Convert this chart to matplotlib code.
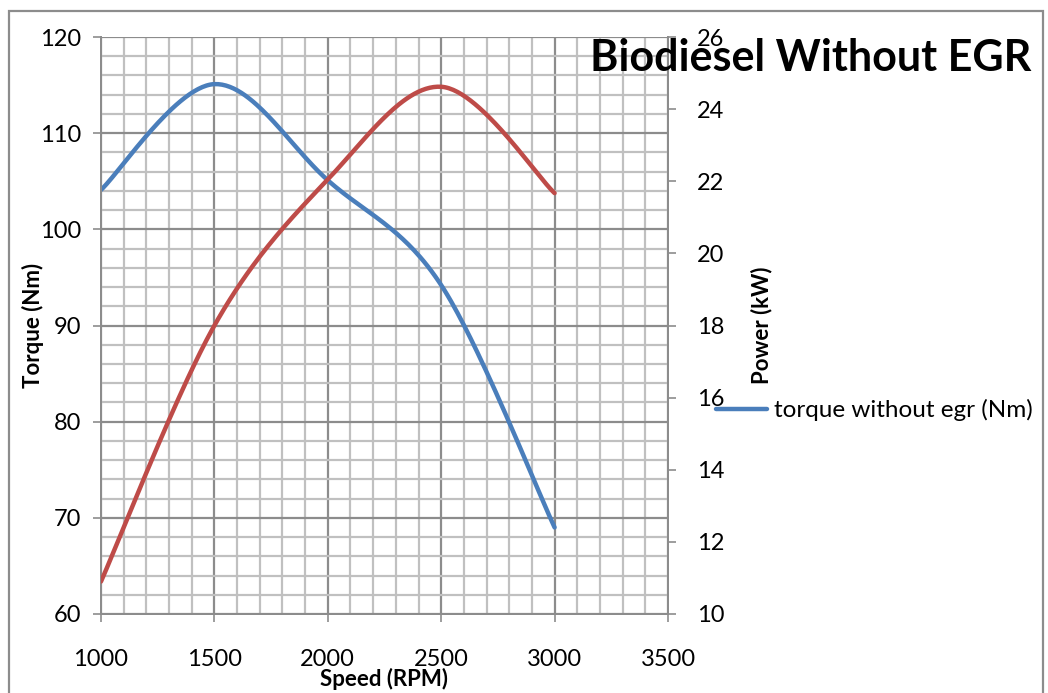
import numpy as np
import matplotlib
matplotlib.use("Agg")
import matplotlib.pyplot as plt
from matplotlib.patches import Rectangle

plt.rcParams['font.family'] = ['Lato', 'DejaVu Sans']

speed = [1000, 1500, 2000, 2500, 3000]
torque = [104.1, 115.1, 105.1, 94.2, 69.0]
power = [10.9, 18.0, 22.05, 24.62, 21.67]


def smooth(x, y, n=60):
    # catmull-rom style smoothing, like excel's smoothed line
    x = np.asarray(x, float)
    y = np.asarray(y, float)
    px = np.concatenate([[x[0]], x, [x[-1]]])
    py = np.concatenate([[y[0]], y, [y[-1]]])
    xs, ys = [], []
    for i in range(1, len(px) - 2):
        t = np.linspace(0, 1, n)
        for arr, out in ((px, xs), (py, ys)):
            p0, p1, p2, p3 = arr[i - 1], arr[i], arr[i + 1], arr[i + 2]
            m1 = (p2 - p0) / 2
            m2 = (p3 - p1) / 2
            h00 = 2 * t**3 - 3 * t**2 + 1
            h10 = t**3 - 2 * t**2 + t
            h01 = -2 * t**3 + 3 * t**2
            h11 = t**3 - t**2
            out.extend(h00 * p1 + h10 * m1 + h01 * p2 + h11 * m2)
    return np.array(xs), np.array(ys)


fig = plt.figure(figsize=(10.48, 6.93), dpi=100)
ax = fig.add_axes([101 / 1048, 1 - 614 / 693, (668 - 101) / 1048, (614 - 37) / 693])
ax2 = ax.twinx()

sx, st = smooth(speed, torque)
ax.plot(sx, st, color='#4a7ebb', lw=3.2, solid_capstyle='round',
        label='torque without egr (Nm)', zorder=3)
sx2, sp = smooth(speed, power)
ax2.plot(sx2, sp, color='#be4b48', lw=3.2, solid_capstyle='round', zorder=3)

ax.set_xlim(1000, 3500)
ax.set_ylim(60, 120)
ax2.set_ylim(10, 26)
ax.set_xticks(np.arange(1000, 3501, 500))
ax.set_xticks(np.arange(1000, 3501, 100), minor=True)
ax.set_yticks(np.arange(60, 121, 10))
ax.set_yticks(np.arange(60, 121, 2), minor=True)
ax2.set_yticks(np.arange(10, 27, 2))

ax.grid(which='minor', color='#c0c0c0', lw=1.6)
ax.grid(which='major', color='#8c8c8c', lw=1.6)
ax.set_axisbelow(True)

for a in (ax, ax2):
    for s in a.spines.values():
        s.set_color('#8c8c8c')
        s.set_linewidth(1.4)
ax.spines['top'].set_visible(False)
ax2.spines['top'].set_visible(False)

ax.tick_params(which='major', direction='out', length=6, width=1.2, color='#8c8c8c',
               labelsize=17)
ax.tick_params(axis='y', pad=8)
ax.tick_params(which='minor', length=0)
ax.tick_params(axis='x', pad=19)
ax2.tick_params(direction='out', length=6, width=1.2, color='#8c8c8c', labelsize=17, pad=15)

ax.set_xlabel('Speed (RPM)', fontsize=16, fontweight='bold', labelpad=-1)
ax.set_ylabel('Torque (Nm)', fontsize=16, fontweight='bold')
ax.yaxis.set_label_coords((44 - 101) / 567, 0.5)
ax2.set_ylabel('Power (kW)', fontsize=16, fontweight='bold')
ax2.yaxis.set_label_coords((751 - 101) / 567, 0.5)

fig.text(811 / 1048, 1 - 58 / 693, 'Biodiesel Without EGR', fontsize=31, fontweight='bold',
         ha='center', va='center')

fig.legend(loc='center left', bbox_to_anchor=(716 / 1048, 1 - 410 / 693),
           frameon=False, fontsize=17.5, handlelength=2.1, handletextpad=0.3,
           borderaxespad=0, borderpad=0)

fig.patches.append(Rectangle((9 / 1048, -0.05), 1 - 14 / 1048, 1.05 - 11 / 693,
                             transform=fig.transFigure, fill=False,
                             edgecolor='#8c8c8c', lw=1.6))

fig.savefig('out.png', dpi=100)
